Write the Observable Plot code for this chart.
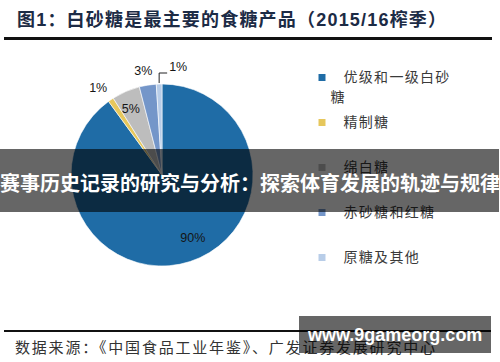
<!DOCTYPE html>
<html><head><meta charset="utf-8">
<script src="https://cdn.jsdelivr.net/npm/d3@7"></script>
<script src="https://cdn.jsdelivr.net/npm/@observablehq/plot@0.6"></script>
<style>
body{margin:0;background:#fff;width:500px;height:362px;position:relative;overflow:hidden;font-family:"Liberation Sans","Noto Sans CJK SC",sans-serif;}
#title{position:absolute;left:17px;top:8px;font-size:18px;line-height:24px;font-weight:bold;color:#1c2b45;white-space:nowrap;letter-spacing:1.2px;}
#rule1{position:absolute;left:4px;top:37px;width:488px;height:2.5px;background:#111;}
#chart{position:absolute;left:0;top:40px;width:500px;height:288px;}
#rule2{position:absolute;left:4px;top:329.5px;width:487px;height:2px;background:#111;}
#source{position:absolute;left:15px;top:336px;font-size:15px;line-height:22px;color:#333;white-space:nowrap;letter-spacing:1.8px;font-family:"Noto Sans CJK SC",sans-serif;}
#band{position:absolute;left:0;top:149px;width:499px;height:63px;background:rgba(0,0,0,0.6);}
#bandText{position:absolute;left:0;top:170px;width:500px;font-size:20px;line-height:26px;font-weight:bold;color:#fff;white-space:nowrap;font-family:"Noto Sans CJK SC",sans-serif;}
#wm{position:absolute;left:299px;top:316px;width:192px;height:37px;background:rgba(0,0,0,0.6);}
#wmText{position:absolute;left:308px;top:324px;font-size:18px;line-height:22px;font-weight:bold;color:#fff;white-space:nowrap;font-family:"Liberation Sans",sans-serif;}
</style></head><body>
<div id="title">图1：白砂糖是最主要的食糖产品（2015/16榨季）</div>
<div id="rule1"></div>
<div id="chart"></div>
<div id="rule2"></div>
<div id="source">数据来源：《中国食品工业年鉴》、广发证券发展研究中心</div>
<div id="band"></div>
<div id="bandText">赛事历史记录的研究与分析：探索体育发展的轨迹与规律</div>
<div id="wm"></div>
<div id="wmText">www.9gameorg.com</div>
<script>
const categories = ["优级和一级白砂糖", "精制糖", "绵白糖", "赤砂糖和红糖", "原糖及其他"];
const shares = [90, 1, 5, 3, 1];
const colors = ["#1f6ca6", "#e6c75c", "#bdbdbd", "#7496c9", "#b8cde8"];
const pctLabels = ["90%", "1%", "5%", "3%", "1%"];

const rows = categories.map((cat, i) => ({cat, share: shares[i], label: pctLabels[i], i}));

// layout (pixels in the svg)
const W = 500, H = 288;
const CX = 162, CY = 135, R = 91;
const LEG_X = 321.5, LEG_TX = 343, LEG_WRAP_X = 330, LEG_Y0 = 37, LEG_DY = 45, LEG_LINE = 20, LEG_CHARS = 7;

const legendLines = [];
rows.forEach(d => {
  const chars = Array.from(d.cat);
  for (let k = 0; k * LEG_CHARS < chars.length; k++) {
    legendLines.push({
      text: chars.slice(k * LEG_CHARS, (k + 1) * LEG_CHARS).join(""),
      x: k === 0 ? LEG_TX : LEG_WRAP_X,
      y: LEG_Y0 + d.i * LEG_DY + k * LEG_LINE
    });
  }
});

function pieMark(index, scales) {
  const cx = scales.x(CX), cy = scales.y(CY);
  const r = scales.x(CX + R) - scales.x(CX);
  const arcs = d3.pie().sort(null).value(d => d.share)(rows);
  const arc = d3.arc().innerRadius(0).outerRadius(r);
  const g = d3.create("svg:g").attr("transform", `translate(${cx},${cy})`);
  g.selectAll("path").data(arcs).join("path")
    .attr("d", arc)
    .attr("fill", d => scales.color(d.data.cat))
    .attr("stroke", "#fff").attr("stroke-width", 0.6);
  const font = (sel) => sel.attr("font-family", "Liberation Sans, sans-serif")
    .attr("font-size", 12.5).attr("fill", "#151515")
    .attr("letter-spacing", 0).attr("dominant-baseline", "middle");
  arcs.forEach((a) => {
    const m = (a.startAngle + a.endAngle) / 2;
    const sx = Math.sin(m), sy = -Math.cos(m);
    if (a.data.share >= 5) {
      const rr = (a.data.share > 50 ? 0.74 : 0.78) * r;
      g.append("text").call(font).attr("text-anchor", "middle")
        .attr("x", sx * rr + (a.data.share > 50 ? 10 : -3)).attr("y", sy * rr).text(a.data.label);
    } else if (m > 2 * Math.PI - 0.09) {
      const px = sx * r, py = sy * r;
      const ty = -r - 11;
      g.append("path").attr("d", `M${px},${py - 1}V${ty}H${px + 8}`)
        .attr("fill", "none").attr("stroke", "#222").attr("stroke-width", 1);
      g.append("text").call(font).attr("text-anchor", "start")
        .attr("x", px + 10).attr("y", ty - 5).text(a.data.label);
    } else {
      const rr = 1.17 * r;
      g.append("text").call(font).attr("text-anchor", "middle")
        .attr("x", sx * rr - (a.data.share < 2 ? 4 : 2)).attr("y", sy * rr + (a.data.share < 2 ? 2 : 2)).text(a.data.label);
    }
  });
  return g.node();
}

const plot = Plot.plot({
  width: W, height: H,
  margin: 0,
  style: {background: "transparent", letterSpacing: "1.3px", overflow: "visible"},
  x: {domain: [0, W], range: [0, W], axis: null},
  y: {domain: [0, H], range: [0, H], axis: null},
  color: {domain: categories, range: colors},
  marks: [
    pieMark,
    Plot.dot(rows, {x: LEG_X, y: d => LEG_Y0 + d.i * LEG_DY, symbol: "square", r: 3.95, fill: "cat", stroke: null}),
    Plot.text(legendLines, {x: "x", y: "y", text: "text", textAnchor: "start", fontSize: 14,
      fill: "#3a3a3a", fontFamily: "Noto Sans CJK SC, sans-serif"})
  ]
});
document.getElementById("chart").appendChild(plot);
</script>
</body></html>
